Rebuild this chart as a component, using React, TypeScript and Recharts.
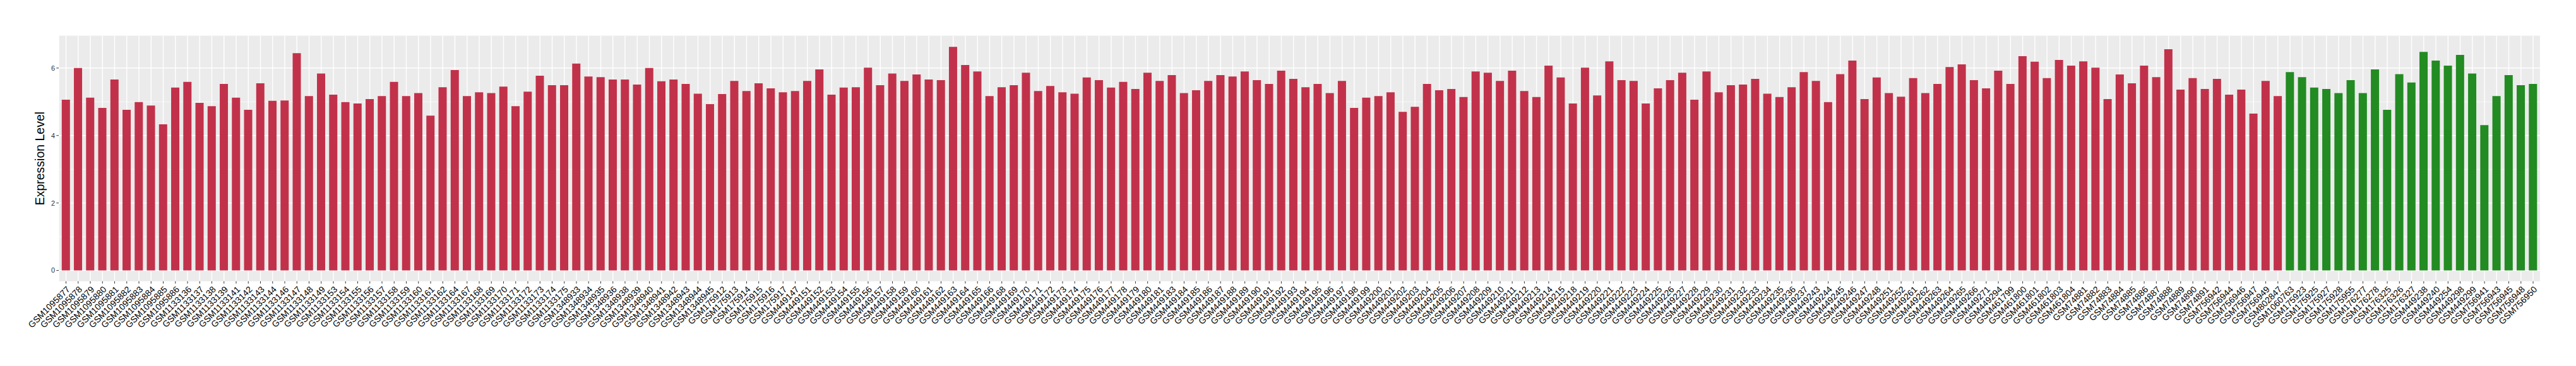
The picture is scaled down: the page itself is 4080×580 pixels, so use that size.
import { BarChart, Bar, XAxis, YAxis, CartesianGrid, Cell, Label } from 'recharts';

// tumour samples (red bars), in plotted order
const tumorSamples = [
  'GSM1095877', 'GSM1095878', 'GSM1095879', 'GSM1095880', 'GSM1095881', 'GSM1095882', 'GSM1095883',
  'GSM1095884', 'GSM1095885', 'GSM1095886', 'GSM1133136', 'GSM1133137', 'GSM1133138', 'GSM1133139',
  'GSM1133141', 'GSM1133142', 'GSM1133143', 'GSM1133144', 'GSM1133146', 'GSM1133147', 'GSM1133148',
  'GSM1133149', 'GSM1133153', 'GSM1133154', 'GSM1133155', 'GSM1133156', 'GSM1133157', 'GSM1133158',
  'GSM1133159', 'GSM1133160', 'GSM1133161', 'GSM1133162', 'GSM1133164', 'GSM1133167', 'GSM1133168',
  'GSM1133169', 'GSM1133170', 'GSM1133171', 'GSM1133172', 'GSM1133173', 'GSM1133174', 'GSM1133175',
  'GSM1348933', 'GSM1348934', 'GSM1348935', 'GSM1348936', 'GSM1348938', 'GSM1348939', 'GSM1348940',
  'GSM1348941', 'GSM1348942', 'GSM1348943', 'GSM1348944', 'GSM1348945', 'GSM175912', 'GSM175913',
  'GSM175914', 'GSM175915', 'GSM175916', 'GSM175917', 'GSM449147', 'GSM449151', 'GSM449152',
  'GSM449153', 'GSM449154', 'GSM449155', 'GSM449156', 'GSM449157', 'GSM449158', 'GSM449159',
  'GSM449160', 'GSM449161', 'GSM449162', 'GSM449163', 'GSM449164', 'GSM449165', 'GSM449166',
  'GSM449168', 'GSM449169', 'GSM449170', 'GSM449171', 'GSM449172', 'GSM449173', 'GSM449174',
  'GSM449175', 'GSM449176', 'GSM449177', 'GSM449178', 'GSM449179', 'GSM449180', 'GSM449181',
  'GSM449183', 'GSM449184', 'GSM449185', 'GSM449186', 'GSM449187', 'GSM449188', 'GSM449189',
  'GSM449190', 'GSM449191', 'GSM449192', 'GSM449193', 'GSM449194', 'GSM449195', 'GSM449196',
  'GSM449197', 'GSM449198', 'GSM449199', 'GSM449200', 'GSM449201', 'GSM449202', 'GSM449203',
  'GSM449204', 'GSM449205', 'GSM449206', 'GSM449207', 'GSM449208', 'GSM449209', 'GSM449210',
  'GSM449211', 'GSM449212', 'GSM449213', 'GSM449214', 'GSM449215', 'GSM449218', 'GSM449219',
  'GSM449220', 'GSM449221', 'GSM449222', 'GSM449223', 'GSM449224', 'GSM449225', 'GSM449226',
  'GSM449227', 'GSM449228', 'GSM449229', 'GSM449230', 'GSM449231', 'GSM449232', 'GSM449233',
  'GSM449234', 'GSM449235', 'GSM449236', 'GSM449237', 'GSM449243', 'GSM449244', 'GSM449245',
  'GSM449246', 'GSM449247', 'GSM449248', 'GSM449251', 'GSM449252', 'GSM449261', 'GSM449262',
  'GSM449263', 'GSM449264', 'GSM449265', 'GSM449266', 'GSM449271', 'GSM449294', 'GSM461799',
  'GSM461800', 'GSM461801', 'GSM461802', 'GSM461803', 'GSM461804', 'GSM74881', 'GSM74882',
  'GSM74883', 'GSM74884', 'GSM74885', 'GSM74886', 'GSM74887', 'GSM74888', 'GSM74889',
  'GSM74890', 'GSM74891', 'GSM756942', 'GSM756944', 'GSM756946', 'GSM756947', 'GSM756949',
  'GSM802847',
];

const tumorValues = [
  5.06, 6.0, 5.12, 4.82, 5.66, 4.76, 4.99, 4.89, 4.33, 5.42, 5.59, 4.97, 4.87, 5.53,
  5.12, 4.76, 5.55, 5.03, 5.04, 6.44, 5.17, 5.84, 5.21, 4.99, 4.95, 5.08, 5.17, 5.59,
  5.17, 5.26, 4.59, 5.43, 5.94, 5.17, 5.28, 5.26, 5.45, 4.87, 5.3, 5.77, 5.49, 5.49,
  6.13, 5.75, 5.73, 5.66, 5.66, 5.51, 6.0, 5.61, 5.66, 5.53, 5.24, 4.93, 5.23, 5.62,
  5.32, 5.55, 5.4, 5.28, 5.32, 5.62, 5.96, 5.21, 5.42, 5.43, 6.01, 5.49, 5.84, 5.62,
  5.81, 5.66, 5.64, 6.63, 6.09, 5.9, 5.17, 5.43, 5.49, 5.86, 5.32, 5.47, 5.28, 5.24,
  5.72, 5.64, 5.42, 5.59, 5.38, 5.86, 5.62, 5.79, 5.26, 5.34, 5.62, 5.79, 5.75, 5.9,
  5.64, 5.53, 5.92, 5.68, 5.43, 5.53, 5.26, 5.62, 4.82, 5.12, 5.17, 5.28, 4.7, 4.85,
  5.53, 5.34, 5.38, 5.14, 5.9, 5.86, 5.62, 5.92, 5.32, 5.14, 6.07, 5.72, 4.95, 6.01,
  5.19, 6.2, 5.64, 5.62, 4.95, 5.4, 5.64, 5.86, 5.06, 5.9, 5.28, 5.49, 5.51, 5.68,
  5.24, 5.14, 5.43, 5.88, 5.62, 4.99, 5.82, 6.22, 5.08, 5.72, 5.26, 5.15, 5.7, 5.26,
  5.53, 6.03, 6.11, 5.64, 5.4, 5.92, 5.53, 6.35, 6.19, 5.7, 6.24, 6.07, 6.2, 6.01,
  5.08, 5.81, 5.55, 6.07, 5.73, 6.56, 5.36, 5.7, 5.38, 5.68, 5.21, 5.36, 4.65, 5.62,
  5.17,
];

// normal samples (green bars)
const normalSamples = [
  'GSM1060763', 'GSM175923', 'GSM175925', 'GSM175927', 'GSM175928', 'GSM175955', 'GSM176277',
  'GSM176278', 'GSM176325', 'GSM176326', 'GSM176327', 'GSM449238', 'GSM449240', 'GSM449254',
  'GSM449298', 'GSM449299', 'GSM756941', 'GSM756943', 'GSM756945', 'GSM756948', 'GSM756950',
];

const normalValues = [
  5.88, 5.73, 5.42, 5.38, 5.26, 5.64, 5.26, 5.96, 4.76, 5.82, 5.57, 6.48, 6.22, 6.07,
  6.39, 5.84, 4.31, 5.17, 5.79, 5.49, 5.53,
];

const yMajorTicks = [0, 2, 4, 6];
const yMinorTicks = [1, 3, 5];

const TUMOR_COLOR = '#C2314A';
const NORMAL_COLOR = '#228B22';

const data = [
  ...tumorSamples.map((sample, i) => ({ sample, value: tumorValues[i], color: TUMOR_COLOR })),
  ...normalSamples.map((sample, i) => ({ sample, value: normalValues[i], color: NORMAL_COLOR })),
];

function SampleTick({ x, y, payload }: any) {
  return (
    <text
      x={x}
      y={y}
      dy="0.72em"
      transform={`rotate(-45 ${x} ${y})`}
      textAnchor="end"
      fontSize={14}
      fill="#000"
    >
      {payload.value}
    </text>
  );
}

function YTitle({ viewBox }: any) {
  const cx = viewBox.x + 22.5;
  const cy = viewBox.y + viewBox.height / 2;
  return (
    <text x={cx} y={cy} transform={`rotate(-90 ${cx} ${cy})`} textAnchor="middle" fontSize={19.5} fill="#000">
      Expression Level
    </text>
  );
}

export default function App() {
  return (
    <BarChart
      width={4072}
      height={572}
      data={data}
      margin={{ top: 48.5, right: 56.4, bottom: 0, left: 40 }}
      barCategoryGap="15%"
      style={{ fontFamily: '"Liberation Sans", Arial, sans-serif' }}
    >
      <CartesianGrid fill="#EBEBEB" stroke="#FFFFFF" strokeWidth={0.7} horizontalValues={yMinorTicks} vertical={false} />
      <CartesianGrid stroke="#FFFFFF" strokeWidth={1.4} horizontalValues={yMajorTicks} />
      <XAxis
        dataKey="sample"
        interval={0}
        tick={<SampleTick />}
        tickSize={3.7}
        tickMargin={2.9}
        tickLine={{ stroke: '#333333', strokeWidth: 1 }}
        axisLine={false}
        height={134.3}
        padding={{ left: 1.92, right: 1.92 }}
      />
      <YAxis
        type="number"
        domain={[-0.32, 6.96]}
        allowDataOverflow
        ticks={yMajorTicks}
        tick={{ fontSize: 11, fill: '#333333' }}
        tickSize={3.7}
        tickMargin={2.2}
        tickLine={{ stroke: '#333333', strokeWidth: 1 }}
        axisLine={false}
        width={45}
      >
        <Label content={<YTitle />} />
      </YAxis>
      <Bar dataKey="value" isAnimationActive={false}>
        {data.map((d) => (
          <Cell key={d.sample} fill={d.color} />
        ))}
      </Bar>
    </BarChart>
  );
}
